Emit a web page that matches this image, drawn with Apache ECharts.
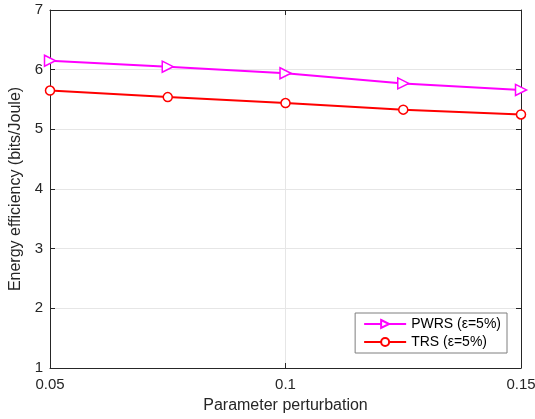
<!DOCTYPE html>
<html><head><meta charset="utf-8">
<script src="https://cdn.jsdelivr.net/npm/echarts@6/dist/echarts.min.js"></script>
<style>html,body{margin:0;padding:0;background:#fff}#c{width:535px;height:419px}</style>
</head><body><div id="c"></div>
<script>
const xValues = [0.05, 0.075, 0.1, 0.125, 0.15];
const pwrs = [6.15, 6.05, 5.94, 5.77, 5.66];
const trs = [5.65, 5.54, 5.44, 5.33, 5.25];
const xTicks = [0.05, 0.1, 0.15];
const yTicks = [1, 2, 3, 4, 5, 6, 7];
const names = ['PWRS (\u03b5=5%)', 'TRS (\u03b5=5%)'];

const font = 'Liberation Sans, Arial, sans-serif';
const chart = echarts.init(document.getElementById('c'));
const tri = 'path://M0,0 L10,5 L0,10 Z';
const axisCommon = {
  axisLine: {show: true, onZero: false, lineStyle: {color: '#262626', width: 1}},
  axisTick: {show: true, inside: true, length: 5, lineStyle: {color: '#262626'}},
};
chart.setOption({
  animation: false,
  backgroundColor: '#fff',
  grid: {left: 50, right: 14, top: 10, bottom: 51, containLabel: false, outerBoundsMode: 'none'},
  legend: {
    right: 28, bottom: 66, orient: 'vertical',
    backgroundColor: '#fff', borderColor: '#7f7f7f', borderWidth: 1,
    padding: [4, 6, 4, 8], itemGap: 4, itemWidth: 42, itemHeight: 10,
    textStyle: {fontFamily: font, fontSize: 14, color: '#000'},
    data: names
  },
  xAxis: [{
    type: 'value', min: 0.05, max: 0.15, interval: 0.05,
    name: 'Parameter perturbation', nameLocation: 'middle', nameGap: 30,
    nameTextStyle: {fontFamily: font, fontSize: 16, color: '#262626'},
    ...axisCommon,
    axisLabel: {fontFamily: font, fontSize: 15, color: '#262626', margin: 9,
      formatter: v => xTicks.includes(+v.toFixed(3)) ? String(+v.toFixed(3)) : ''},
    splitLine: {show: true, lineStyle: {color: '#e6e6e6'}}
  }, {
    type: 'value', position: 'top', min: 0.05, max: 0.15, interval: 0.05,
    ...axisCommon, axisLabel: {show: false}, splitLine: {show: false}
  }],
  yAxis: [{
    type: 'value', min: 1, max: 7, interval: 1,
    name: 'Energy efficiency (bits/Joule)', nameLocation: 'middle', nameGap: 22,
    nameTextStyle: {fontFamily: font, fontSize: 16, color: '#262626'},
    ...axisCommon,
    axisLabel: {fontFamily: font, fontSize: 15, color: '#262626', margin: 7,
      formatter: v => yTicks.includes(v) ? String(v) : ''},
    splitLine: {show: true, lineStyle: {color: '#e6e6e6'}}
  }, {
    type: 'value', position: 'right', min: 1, max: 7, interval: 1,
    ...axisCommon, axisLabel: {show: false}, splitLine: {show: false}
  }],
  series: [{
    name: names[0], type: 'line',
    data: xValues.map((x, i) => [x, pwrs[i]]),
    symbol: tri, symbolSize: [11, 11], showAllSymbol: true,
    lineStyle: {color: '#ff00ff', width: 2},
    itemStyle: {color: '#fff', borderColor: '#ff00ff', borderWidth: 1.5},
    z: 3
  }, {
    name: names[1], type: 'line',
    data: xValues.map((x, i) => [x, trs[i]]),
    symbol: 'circle', symbolSize: 9, showAllSymbol: true,
    lineStyle: {color: '#ff0000', width: 2},
    itemStyle: {color: '#fff', borderColor: '#ff0000', borderWidth: 1.5},
    z: 3
  }]
});
</script></body></html>
